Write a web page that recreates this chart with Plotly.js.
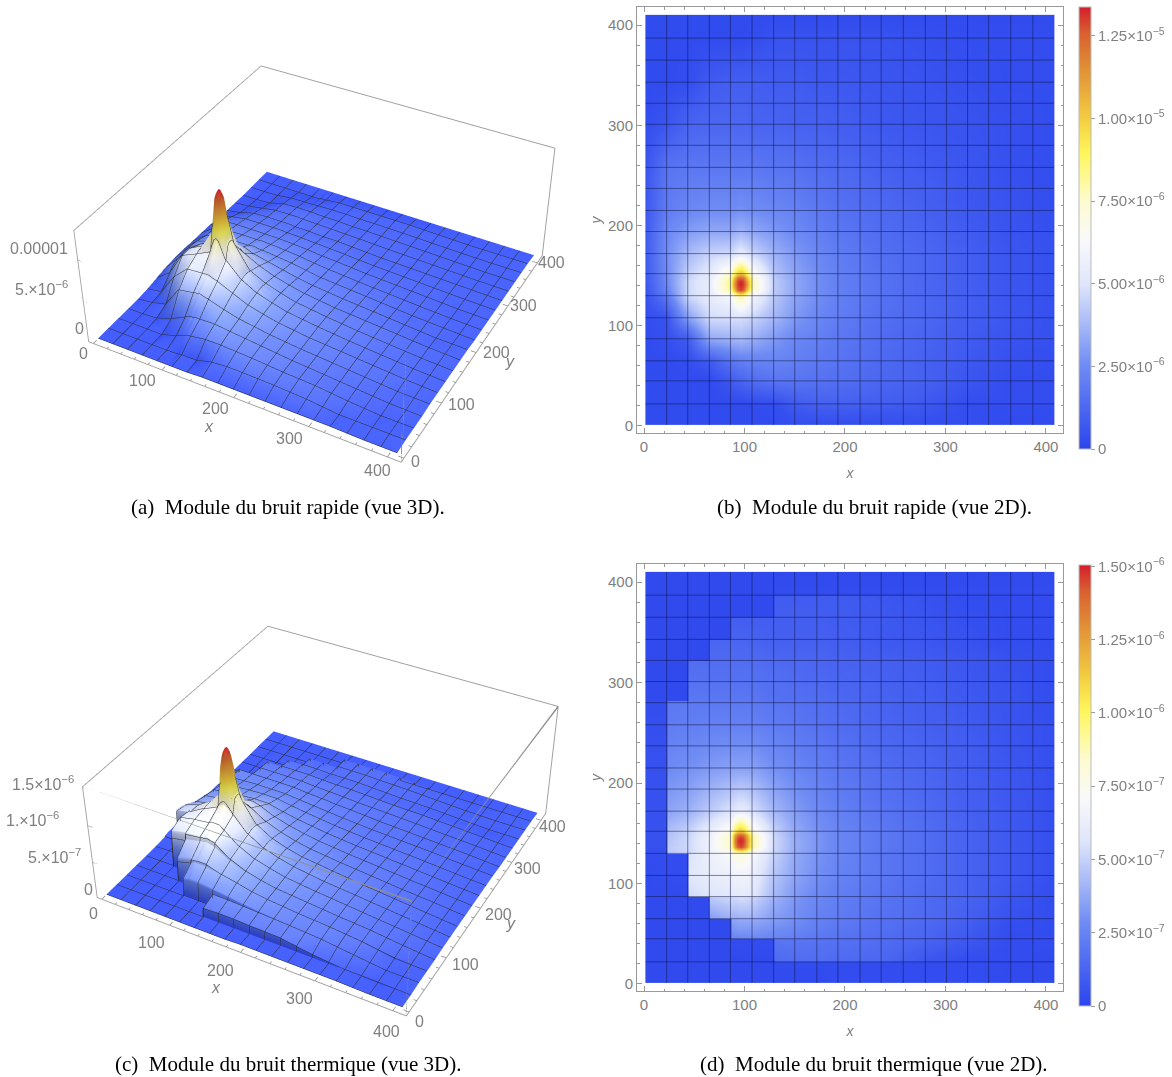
<!DOCTYPE html>
<html><head><meta charset="utf-8">
<script src="https://cdn.plot.ly/plotly-3.0.1.min.js"></script>
<style>html,body{margin:0;padding:0;background:#fff;width:1172px;height:1077px;overflow:hidden}#g{position:absolute;left:0;top:-500px;width:1172px;height:2000px}</style>
</head><body><div id="g"></div>
<script>
// Module du bruit rapide, in units of 1e-7
const xRapide=[1.5,22.5,43.5,65,86,90,93,96,99,102,107.5,129,150,172,193,236,280,322,365,408];
const yRapide=[1,22,45,65,87,108,130,136,139,142,145,148,152,172,194,215,258,301,343,387,410];
const zRapide=[
[2,2,2,2,2,2,2,2,2,2,2,2,3,3,3,3,3,3,2,2],
[2,2,2,2,2,2,2,2,2,2,3,3,8,10,10,9,7,3,3,3],
[2,2,2,2,7,9,10,11,12,13,14,17,17,16,15,12,10,6,3,3],
[2,2,3,8,17,19,20,21,21,22,22,23,21,19,17,13,10,7,4,3],
[2,4,8,33,36,37,37,38,37,36,35,29,24,21,18,14,11,8,5,4],
[3,5,30,47,48,48,48,48,47,46,45,37,29,24,20,15,12,9,6,4],
[5,18,46,54,62,72,78,80,78,72,60,42,32,26,21,16,12,9,6,4],
[6,22,46,55,82,105,125,130,125,105,75,43,33,26,21,16,12,9,6,4],
[6,23,46,55,84,112,128,132,128,112,78,43,33,26,21,16,12,9,6,4],
[6,24,46,55,85,115,130,134,130,115,78,43,33,26,21,16,12,9,6,4],
[7,24,46,55,84,112,128,132,128,112,78,43,33,26,21,16,12,9,6,4],
[7,25,45,54,82,105,122,126,122,105,75,42,32,26,21,16,12,9,6,4],
[7,25,44,53,75,90,100,104,100,90,68,41,32,26,21,16,12,9,6,4],
[8,26,38,45,47,50,52,54,52,50,46,36,29,24,20,15,12,9,6,4],
[8,24,30,33,33,35,36,37,36,35,33,29,25,21,18,14,11,8,5,4],
[7,20,24,26,26,26,27,27,27,26,26,24,22,19,16,13,10,7,5,3],
[6,17,18,18,18,18,18,18,18,18,18,17,16,14,13,10,8,6,4,3],
[3,6,11,12,12,12,12,12,12,12,11,11,10,10,9,7,6,5,4,3],
[2,2,3,8,9,9,9,9,9,9,9,8,8,7,7,6,5,4,3,3],
[2,2,2,2,2,2,2,2,2,3,3,5,5,5,5,5,4,3,3,3],
[2,2,2,2,2,2,2,2,2,2,2,2,2,2,2,2,2,2,2,2]];
// Module du bruit thermique, in units of 1e-8
const xThermique=[1.5,22,23,43,44,64.5,65.5,85.5,86.5,90,93,96,99,102,107.5,128.5,129.5,150,172,193,236,280,322,365,408];
const yThermique=[1,22,23,44.5,45.5,65,66,86.5,87.5,108,129.5,130.5,136,139,142,145,148,152,172,215,258,281.5,282.5,322,323,342.5,343.5,364.5,365.5,386.5,387.5,410];
const zThermique=[
[2,2,2,2,2,2,2,2,2,2,2,2,2,2,2,2,2,2,2,3,3,3,3,2,2],
[2,2,2,2,2,2,2,2,2,2,2,2,2,2,2,2,3,3,3,3,3,3,3,2,2],
[2,2,2,2,2,2,2,2,2,2,2,2,2,2,2,2,15,16,16,15,14,7,3,3,2],
[2,2,2,2,2,2,2,2,3,3,3,3,3,3,3,3,20,20,19,18,16,13,8,3,3],
[2,2,2,2,2,2,2,2,26,27,27,28,28,28,28,26,26,24,21,19,16,13,8,3,3],
[2,2,2,2,2,2,2,2,36,37,38,38,38,38,38,34,34,30,25,22,18,15,11,4,3],
[2,2,2,2,2,2,34,40,40,40,40,41,41,41,41,34,34,30,25,22,18,15,11,5,3],
[2,2,2,2,2,2,48,52,52,53,53,54,54,53,52,40,40,32,27,23,19,15,12,7,3],
[2,2,2,2,52,56,56,58,58,59,59,60,60,59,58,42,42,33,27,23,19,15,12,7,3],
[2,3,3,3,58,62,62,64,64,66,66,66,66,66,62,46,46,36,30,25,20,16,12,8,4],
[3,3,3,3,55,64,64,72,73,76,78,80,78,76,70,50,50,38,31,26,20,16,12,8,4],
[4,4,48,52,52,64,64,73,74,80,84,86,84,80,73,50,50,38,31,26,20,16,12,8,4],
[5,5,48,52,52,65,65,85,92,125,140,145,140,125,90,52,52,39,32,26,21,16,12,8,4],
[5,5,47,52,52,65,65,86,94,128,144,148,144,128,92,52,52,39,32,26,21,16,12,8,4],
[5,5,47,52,52,65,65,86,95,130,146,150,146,130,92,52,52,39,32,26,21,16,12,8,4],
[5,5,46,52,52,65,65,86,94,128,144,148,144,128,92,52,52,39,32,26,21,16,12,8,4],
[5,5,45,51,51,64,64,84,92,122,136,142,136,122,90,51,51,38,32,26,21,16,12,8,4],
[5,5,44,50,50,62,62,78,84,100,110,115,110,100,78,50,50,38,31,26,21,16,12,8,4],
[5,5,36,40,40,48,48,56,56,58,60,60,60,58,55,42,42,34,28,24,19,15,11,8,4],
[5,5,28,30,30,33,33,35,35,35,35,35,35,35,35,30,30,26,23,20,16,13,10,7,4],
[4,4,22,23,23,24,24,24,24,24,24,24,24,24,24,22,22,20,18,16,13,11,9,6,4],
[3,3,21,21,21,21,21,21,21,21,21,21,21,21,21,19,19,18,16,15,12,10,8,6,3],
[2,2,2,2,20,20,20,20,20,20,20,20,20,20,20,18,18,17,16,14,12,10,8,6,3],
[2,2,2,2,16,16,16,16,16,16,16,16,16,16,16,15,15,14,13,12,11,9,7,5,3],
[2,2,2,2,2,2,15,15,15,15,15,15,15,15,15,14,14,13,13,12,10,9,7,5,3],
[2,2,2,2,2,2,13,13,13,13,13,13,13,13,12,11,11,11,11,10,8,7,5,3,3],
[2,2,2,2,2,2,2,2,12,12,12,12,12,12,12,11,11,11,11,10,8,7,5,3,3],
[2,2,2,2,2,2,2,2,10,10,10,10,10,10,10,10,10,10,10,9,8,6,4,3,3],
[2,2,2,2,2,2,2,2,2,2,2,2,2,2,2,2,10,10,10,9,8,6,4,3,3],
[2,2,2,2,2,2,2,2,2,2,2,2,2,2,2,2,9,9,9,9,7,5,3,3,3],
[2,2,2,2,2,2,2,2,2,2,2,2,2,2,2,2,3,3,3,3,3,3,3,3,3],
[2,2,2,2,2,2,2,2,2,2,2,2,2,2,2,2,2,2,2,2,2,2,2,2,2]];
const unitRapide=1e-7, unitThermique=1e-8;
const zMaxRapide=1.337e-5, zMaxThermique=1.505e-6;
const gridX=[22.5,43.5,65,86,107.5,129,150,172,193,215,236,258,280,301,322,343,365,387];
const gridY=[22,45,65,87,108,130,152,172,194,215,237,258,280,301,322,343,365,387];
const xyTicks=[0,100,200,300,400];
const xyMinorTicks=[20,40,60,80,120,140,160,180,220,240,260,280,320,340,360,380];
const cbValsRapide=[0,2.5e-6,5e-6,7.5e-6,1e-5,1.25e-5];
const cbTextRapide=['0','2.50×10<sup>−6</sup>','5.00×10<sup>−6</sup>','7.50×10<sup>−6</sup>','1.00×10<sup>−5</sup>','1.25×10<sup>−5</sup>'];
const cbValsThermique=[0,2.5e-7,5e-7,7.5e-7,1e-6,1.25e-6,1.5e-6];
const cbTextThermique=['0','2.50×10<sup>−7</sup>','5.00×10<sup>−7</sup>','7.50×10<sup>−7</sup>','1.00×10<sup>−6</sup>','1.25×10<sup>−6</sup>','1.50×10<sup>−6</sup>'];
const zTicksRapide=[[0,'0',-9,13],[5e-6,'5.×10<sup>−6</sup>',-42,14],[1e-5,'0.00001',-39,11]];
const zTicksThermique=[[0,'0',-9,8],[5e-7,'5.×10<sup>−7</sup>',-38,6],[1e-6,'1.×10<sup>−6</sup>',-55,6],[1.5e-6,'1.5×10<sup>−6</sup>',-40,4]];
const captions=['(a)  Module du bruit rapide (vue 3D).','(b)  Module du bruit rapide (vue 2D).','(c)  Module du bruit thermique (vue 3D).','(d)  Module du bruit thermique (vue 2D).'];
const cscale=[[0,'#2b45ee'],[0.19,'#6f8cf4'],[0.374,'#dfe6fb'],[0.47,'#f9f9fb'],[0.56,'#fdfbcf'],[0.67,'#fff65a'],[0.75,'#f2cc40'],[0.87,'#e08a35'],[0.94,'#d96030'],[1,'#d41f2b']];

const W=1172,OFF=500,H=2000;
const LO=-7,HI=417;
const scaled=(m,u)=>m.map(r=>r.map(v=>v*u));
const padAxis=a=>[a[0]-0.1,...a,a[a.length-1]+0.1];
const padRow=r=>[r[0],...r,r[r.length-1]];
const padZ=m=>{const p=m.map(padRow);return [p[0],...p,p[p.length-1]];};
const tickCol='#808080', lineCol='#999999';
const sans='"Liberation Sans", Arial, sans-serif';
const tf={family:sans,size:15,color:tickCol};
const tf3={family:sans,size:16,color:tickCol};
const fx=p=>p/W, fy=p=>1-(p+OFF)/H;

function gridTrace(xa,ya){
  const xs=[],ys=[];
  gridX.forEach(v=>{xs.push(v,v,null);ys.push(1,410,null);});
  gridY.forEach(v=>{xs.push(1.5,408,null);ys.push(v,v,null);});
  return {type:'scatter',mode:'lines',x:xs,y:ys,xaxis:xa,yaxis:ya,line:{color:'rgba(15,20,70,0.5)',width:1},hoverinfo:'skip',showlegend:false};
}
function heat(x,y,z,zmax,xa,ya,top,bottom,vals,text){
  return {type:'heatmap',x:padAxis(x),y:padAxis(y),z:padZ(z),zmin:0,zmax,zsmooth:'best',colorscale:cscale,xaxis:xa,yaxis:ya,
    colorbar:{thickness:12,len:bottom-top,lenmode:'pixels',x:fx(1079),xanchor:'left',y:fy(top),yanchor:'top',xpad:0,ypad:0,
      tickmode:'array',tickvals:vals,ticktext:text,ticks:'outside',ticklen:4,tickcolor:lineCol,tickfont:{family:sans,size:15,color:tickCol},
      outlinecolor:'#bbbbbb',outlinewidth:1,borderwidth:0}};
}
function surf(x,y,z,zmax,scene){
  const c={show:true,start:1.5,end:409,size:21.45,color:'#2c2c2c',width:1};
  return {type:'surface',x,y,z,cmin:0,cmax:zmax,colorscale:cscale,showscale:false,scene,
    contours:{x:c,y:c},lighting:{ambient:0.72,diffuse:0.35,specular:0.06,roughness:0.4,fresnel:0.05},lightposition:{x:-1000,y:-2000,z:6000}};
}
// the front box edges, which plotly's axes never draw, and the short ticks on the floor edges
function boxEdges(zmax,scene){
  return {type:'scatter3d',mode:'lines',scene,hoverinfo:'skip',showlegend:false,
    x:[LO,HI,HI,null,HI,HI],y:[LO,LO,HI,null,LO,LO],z:[zmax,zmax,zmax,null,0,zmax],
    line:{color:'#8f8f8f',width:3}};
}
function boxTicks(zmax,zvals,scene){
  const xs=[],ys=[],zs=[];
  const seg=(a,b)=>{xs.push(a[0],b[0],null);ys.push(a[1],b[1],null);zs.push(a[2],b[2],null);};
  xyTicks.forEach(v=>{seg([v,LO,0],[v,LO+7,0]);seg([HI,v,0],[HI-7,v,0]);});
  xyMinorTicks.forEach(v=>{seg([v,LO,0],[v,LO+4,0]);seg([HI,v,0],[HI-4,v,0]);});
  zvals.forEach(t=>seg([LO,LO,t[0]],[LO+7,LO,t[0]]));
  return {type:'scatter3d',mode:'lines',scene,hoverinfo:'skip',showlegend:false,x:xs,y:ys,z:zs,line:{color:'#8a8a8a',width:1.5}};
}
function ax2(dom,rng,title,standoff){
  return {domain:dom,range:rng,tickmode:'array',tickvals:xyTicks,ticks:'inside',ticklen:5,tickcolor:lineCol,tickfont:tf,
    showgrid:false,zeroline:false,showline:true,linecolor:lineCol,linewidth:1,mirror:'ticks',
    minor:{dtick:20,ticks:'inside',ticklen:2.5,tickcolor:lineCol,showgrid:false},
    title:{text:'<i>'+title+'</i>',font:{family:sans,size:14,color:tickCol},standoff}};
}
function scene(domX,domY,zmax,eye,tl){
  const ann=[];
  const add=(x,y,z,text,dx,dy)=>ann.push({x,y,z,text,showarrow:false,xshift:dx,yshift:dy,font:tf3});
  xyTicks.forEach((v,i)=>add(v,LO,0,String(v),tl.x[i][0],tl.x[i][1]));
  xyTicks.forEach((v,i)=>add(HI,v,0,String(v),tl.y[i][0],tl.y[i][1]));
  tl.z.forEach(t=>add(LO,LO,t[0],t[1],t[2],t[3]));
  add(tl.lx[0],LO,0,'<i>x</i>',tl.lx[1],tl.lx[2]);
  add(HI,tl.ly[0],0,'<i>y</i>',tl.ly[1],tl.ly[2]);
  const a=(rng)=>({range:rng,showbackground:false,showgrid:false,zeroline:false,showspikes:false,showticklabels:false,
    showline:true,linecolor:'#a0a0a0',linewidth:2,mirror:true,ticks:'',title:{text:''}});
  return {domain:{x:domX,y:domY},aspectmode:'manual',aspectratio:{x:1,y:1,z:0.4},
    camera:{eye,center:{x:0,y:0,z:0},up:{x:0,y:0,z:1},projection:{type:'perspective'}},
    xaxis:a([LO,HI]),yaxis:a([LO,HI]),zaxis:a([0,zmax]),annotations:ann};
}

const traces=[
  surf(xRapide,yRapide,scaled(zRapide,unitRapide),zMaxRapide,'scene'),
  boxEdges(zMaxRapide,'scene'),
  boxTicks(zMaxRapide,zTicksRapide,'scene'),
  surf(xThermique,yThermique,scaled(zThermique,unitThermique),zMaxThermique,'scene2'),
  boxEdges(zMaxThermique,'scene2'),
  boxTicks(zMaxThermique,zTicksThermique,'scene2'),
  heat(xRapide,yRapide,scaled(zRapide,unitRapide),zMaxRapide,'x','y',7,449,cbValsRapide,cbTextRapide),
  gridTrace('x','y'),
  heat(xThermique,yThermique,scaled(zThermique,unitThermique),zMaxThermique,'x2','y2',565,1006,cbValsThermique,cbTextThermique),
  gridTrace('x2','y2')
];
const eyeA={x:1.56,y:-2.88,z:2.5};
const eyeC={x:1.56,y:-2.88,z:2.46};
const tlA={x:[[-10,-10],[-19,-11],[-18,-11],[-19,-12],[-10,-14]],y:[[12,-3],[20,-1],[20,0],[16,0],[14,0]],z:zTicksRapide,lx:[190,-17,-32],ly:[230,24,-23]};
const tlC={x:[[-8,-14],[-18,-17],[-20,-18],[-15,-18],[-6,-21]],y:[[10,-10],[19,-7],[18,-6],[16,-6],[12,-6]],z:zTicksThermique,lx:[190,-17,-38],ly:[230,21,-29]};
const layout={
  width:W,height:H,margin:{l:0,r:0,t:0,b:0},paper_bgcolor:'#fff',plot_bgcolor:'#fff',showlegend:false,
  scene:scene([fx(9),fx(639)],[fy(831),fy(-343)],zMaxRapide,eyeA,tlA),
  scene2:scene([fx(15),fx(645)],[fy(1378),fy(224)],zMaxThermique,eyeC,tlC),
  xaxis:ax2([fx(637),fx(1063)],[-7,417],'x',14),
  yaxis:ax2([fy(433),fy(7)],[-7,418],'y',3),
  xaxis2:Object.assign(ax2([fx(637),fx(1063)],[-7,417],'x',14),{anchor:'y2'}),
  yaxis2:Object.assign(ax2([fy(991),fy(564)],[-7,418],'y',3),{anchor:'x2'}),
  annotations:captions.map((t,i)=>({text:t,xref:'paper',yref:'paper',x:fx(i%2?874:288),y:fy(i<2?507:1064),xanchor:'center',yanchor:'middle',showarrow:false,
    font:{family:'"Liberation Serif", "Times New Roman", serif',size:21,color:'#000'}}))
};
Plotly.newPlot('g',traces,layout,{displayModeBar:false});
</script></body></html>
